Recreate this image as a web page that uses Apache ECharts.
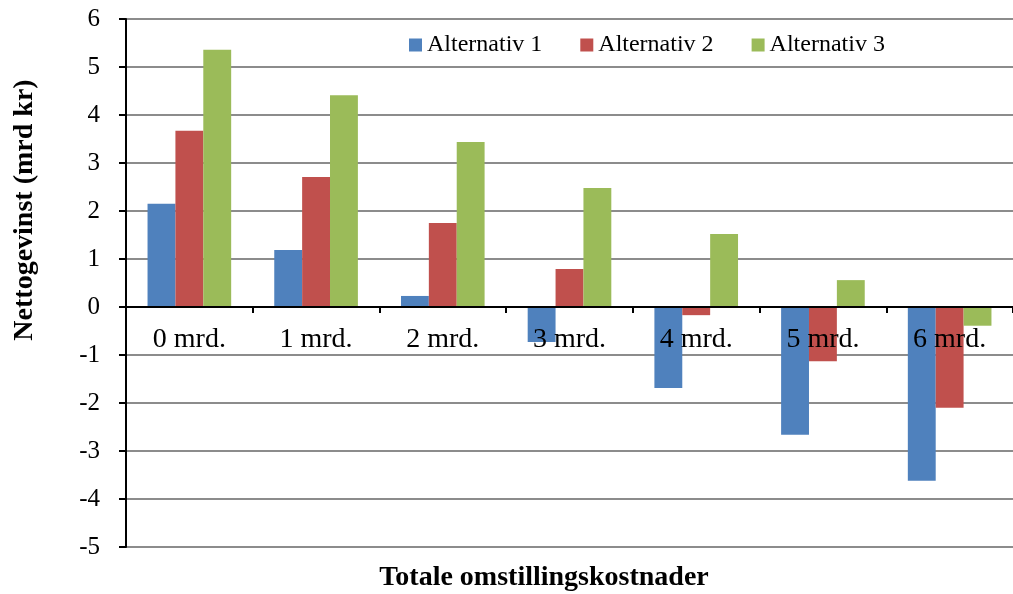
<!DOCTYPE html>
<html><head><meta charset="utf-8">
<script src="https://cdn.jsdelivr.net/npm/echarts@6/dist/echarts.min.js"></script>
<style>html,body{margin:0;padding:0;background:#fff;overflow:hidden}#c{width:1013px;height:594px}</style>
</head><body><div id="c"></div>
<script>
const categories = ['0 mrd.', '1 mrd.', '2 mrd.', '3 mrd.', '4 mrd.', '5 mrd.', '6 mrd.'];
const alt1 = [2.15, 1.19, 0.23, -0.73, -1.69, -2.66, -3.62];
const alt2 = [3.67, 2.71, 1.75, 0.79, -0.17, -1.13, -2.10];
const alt3 = [5.36, 4.41, 3.44, 2.48, 1.52, 0.56, -0.39];
const seriesNames = ['Alternativ 1', 'Alternativ 2', 'Alternativ 3'];
const colors = ['#4F81BD', '#C0504D', '#9BBB59'];
const font = '"Liberation Serif", "Times New Roman", serif';

const chart = echarts.init(document.getElementById('c'), null, {renderer: 'canvas'});
const data = [alt1, alt2, alt3];
chart.setOption({
  animation: false,
  textStyle: {fontFamily: font},
  grid: {left: 126, right: -4, top: 19, bottom: 47},
  legend: {
    left: 407, top: 31, itemWidth: 13, itemHeight: 13, itemGap: 38,
    icon: 'rect',
    textStyle: {fontFamily: font, fontSize: 24, color: '#000'},
    padding: 2,
    data: seriesNames
  },
  xAxis: {
    type: 'category', data: categories,
    offset: -240, z: 5,
    axisLine: {onZero: false, lineStyle: {color: '#000', width: 2}},
    axisTick: {show: true, length: 6, lineStyle: {color: '#000', width: 2}},
    axisLabel: {margin: 19, fontFamily: font, fontSize: 28, color: '#000'},
    splitLine: {show: false}
  },
  yAxis: {
    type: 'value', min: -5, max: 6, interval: 1,
    axisLine: {show: true, lineStyle: {color: '#000', width: 2}},
    axisTick: {show: true, length: 7, lineStyle: {color: '#000', width: 2}},
    axisLabel: {margin: 26, fontFamily: font, fontSize: 25, color: '#000'},
    splitLine: {show: true, lineStyle: {color: '#8c8c8c', width: 2}}
  },
  graphic: [
    {type: 'text', x: 544, y: 578, style: {text: 'Totale omstillingskostnader', font: 'bold 28px ' + font, fill: '#000', textAlign: 'center', textVerticalAlign: 'middle'}},
    {type: 'text', rotation: Math.PI / 2, x: 25, y: 210, style: {text: 'Nettogevinst (mrd kr)', font: 'bold 28px ' + font, fill: '#000', textAlign: 'center', textVerticalAlign: 'middle'}}
  ],
  series: seriesNames.map((n, i) => ({
    name: n, type: 'bar', data: data[i], z: 2,
    barGap: '0%', barCategoryGap: '34%',
    itemStyle: {color: colors[i]}
  }))
});
</script></body></html>
